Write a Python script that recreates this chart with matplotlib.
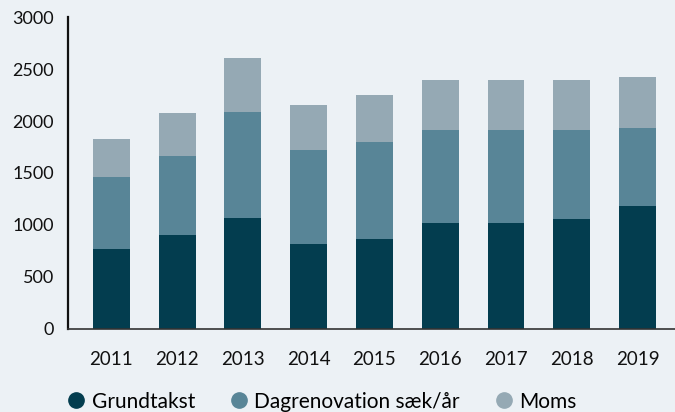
import matplotlib
matplotlib.use("Agg")
import matplotlib.pyplot as plt
from matplotlib.lines import Line2D
import numpy as np

years = ["2011", "2012", "2013", "2014", "2015", "2016", "2017", "2018", "2019"]
grundtakst = [769, 904, 1067, 817, 865, 1019, 1019, 1058, 1183]
dagrenovation = [693, 759, 1020, 904, 933, 894, 894, 855, 750]
moms = [365, 414, 519, 433, 452, 481, 481, 481, 490]
series_names = ["Grundtakst", "Dagrenovation sæk/år", "Moms"]
yticks = [0, 500, 1000, 1500, 2000, 2500, 3000]

colors = ["#033D4F", "#588597", "#95A9B4"]
bg = "#ECF1F5"

plt.rcParams["font.family"] = ["Lato", "DejaVu Sans"]

fig = plt.figure(figsize=(6.75, 4.12), dpi=100, facecolor=bg)
ax = fig.add_axes([0.1007, 0.2015, 0.8993, 0.7572], facecolor=bg)

x = np.arange(len(years))
g = np.array(grundtakst)
d = np.array(dagrenovation)
m = np.array(moms)
w = 0.56
ax.bar(x, g, width=w, color=colors[0], label=series_names[0])
ax.bar(x, d, width=w, bottom=g, color=colors[1], label=series_names[1])
ax.bar(x, m, width=w, bottom=g + d, color=colors[2], label=series_names[2])

ax.set_xlim(-0.66, 8.57)
ax.set_ylim(0, 3000)
ax.set_xticks(x)
ax.set_xticklabels(years)
ax.set_yticks(yticks)
ax.set_yticklabels([str(v) for v in yticks])
for s in ["top", "right"]:
    ax.spines[s].set_visible(False)
ax.spines["left"].set_color("#111111")
ax.spines["left"].set_linewidth(1.6)
ax.spines["bottom"].set_color("#333333")
ax.spines["bottom"].set_linewidth(1.2)
ax.tick_params(axis="both", length=0, colors="#111111")
ax.tick_params(axis="x", pad=16, labelsize=13.5)
ax.tick_params(axis="y", pad=10, labelsize=13)

handles = [Line2D([0], [0], marker="o", linestyle="", markersize=11,
                  markerfacecolor=c, markeredgecolor=c) for c in colors]
fig.legend(handles, series_names, loc="center left", bbox_to_anchor=(0.085, 0.025),
           ncol=3, frameon=False, fontsize=15, handletextpad=0.25,
           columnspacing=1.6, handlelength=1.0, borderaxespad=0)

fig.savefig("out.png", dpi=100, facecolor=bg)
